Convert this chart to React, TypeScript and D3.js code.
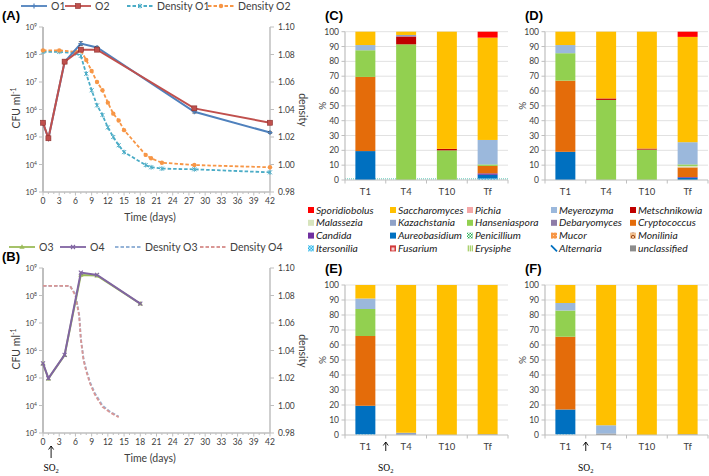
import React from 'react';
import * as d3 from 'd3';

// ---------- Panel A / B data ----------
const daysA = [0, 1, 4, 7, 10, 28, 42];
const cfuO1 = [3.2e5, 9e4, 5.3e7, 2.5e8, 1.8e8, 8.3e5, 1.45e5];
const cfuO2 = [3.3e5, 9e4, 5.5e7, 1.5e8, 1.5e8, 1.1e6, 3.3e5];
const errO1 = [0, 0, 0, 0.07, 0.04, 0.05, 0.03];
const errO2 = [0, 0, 0, 0.04, 0.04, 0.06, 0.03];

const densDaysA = [0, 3, 6, 7, 8, 9, 10, 11, 12, 13, 14, 15, 19, 20, 22, 28, 42];
const densO1 = [1.082, 1.082, 1.081, 1.079, 1.066, 1.054, 1.043, 1.036, 1.027, 1.020, 1.014, 1.009, 0.9996, 0.998, 0.997, 0.9965, 0.9943];
const densO2 = [1.083, 1.083, 1.082, 1.083, 1.076, 1.068, 1.060, 1.054, 1.045, 1.037, 1.032, 1.025, 1.007, 1.0045, 1.0013, 0.9996, 0.998];

const daysB = [0, 1, 4, 7, 10, 18];
const cfuO3 = [3.3e5, 9.5e4, 6.8e5, 5.6e8, 5.3e8, 5e7];
const cfuO4 = [3.4e5, 9.8e4, 6.9e5, 6.8e8, 5.6e8, 5.1e7];
const densDaysB = [0, 5, 6, 6.7, 7, 7.5, 8, 8.7, 9.6, 11, 12.4, 14];
const densO3 = [1.087, 1.087, 1.081, 1.066, 1.049, 1.034, 1.026, 1.017, 1.009, 1.000, 0.9955, 0.992];
const densO4 = [1.087, 1.087, 1.080, 1.065, 1.048, 1.033, 1.025, 1.016, 1.008, 0.999, 0.995, 0.9915];

const logTicks = [3, 4, 5, 6, 7, 8, 9];
const densTicks = [0.98, 1.0, 1.02, 1.04, 1.06, 1.08, 1.1];
const dayTicks = d3.range(0, 43, 3);

// ---------- Stacked bars data ----------
const timepoints = ['T1', 'T4', 'T10', 'Tf'];
const stackKeys = ['Itersonilia', 'Aureobasidium', 'Candida', 'Cryptococcus', 'Malassezia', 'Hanseniaspora', 'unclassified', 'Meyerozyma', 'Metschnikowia', 'Kazachstania', 'Saccharomyces', 'Sporidiobolus'];

const barsC = [
  { t: 'T1', Aureobasidium: 19.5, Cryptococcus: 50, Hanseniaspora: 18, Meyerozyma: 3.5, Saccharomyces: 9 },
  { t: 'T4', Hanseniaspora: 91.5, Metschnikowia: 5.3, Kazachstania: 1, Saccharomyces: 2.2 },
  { t: 'T10', Hanseniaspora: 20, Metschnikowia: 1, Saccharomyces: 79 },
  { t: 'Tf', Itersonilia: 1, Aureobasidium: 2.5, Candida: 1, Cryptococcus: 5, Hanseniaspora: 1, Meyerozyma: 16.5, Saccharomyces: 69, Sporidiobolus: 4 },
];
const barsD = [
  { t: 'T1', Aureobasidium: 19, Cryptococcus: 48, Hanseniaspora: 18.5, Meyerozyma: 5.5, Saccharomyces: 9 },
  { t: 'T4', Hanseniaspora: 54, Metschnikowia: 1, Saccharomyces: 45 },
  { t: 'T10', Hanseniaspora: 20.5, Metschnikowia: 0.7, Saccharomyces: 78.8 },
  { t: 'Tf', Aureobasidium: 1.5, Candida: 0.5, Cryptococcus: 6.5, Malassezia: 1, Hanseniaspora: 1, Meyerozyma: 15, Saccharomyces: 71, Sporidiobolus: 3.5 },
];
const barsE = [
  { t: 'T1', Itersonilia: 0.5, Aureobasidium: 19, Cryptococcus: 46.5, Hanseniaspora: 18, Meyerozyma: 7, Saccharomyces: 9 },
  { t: 'T4', Kazachstania: 1.5, Saccharomyces: 98.5 },
  { t: 'T10', Saccharomyces: 100 },
  { t: 'Tf', unclassified: 0.5, Saccharomyces: 99.5 },
];
const barsF = [
  { t: 'T1', Itersonilia: 0.5, Aureobasidium: 16.5, Cryptococcus: 48.5, Hanseniaspora: 17.5, Meyerozyma: 5, Saccharomyces: 12 },
  { t: 'T4', unclassified: 1, Meyerozyma: 5.5, Saccharomyces: 93.5 },
  { t: 'T10', Saccharomyces: 100 },
  { t: 'Tf', unclassified: 0.5, Saccharomyces: 99.5 },
];

const legendGenera = [
  'Sporidiobolus', 'Saccharomyces', 'Pichia', 'Meyerozyma', 'Metschnikowia',
  'Malassezia', 'Kazachstania', 'Hanseniaspora', 'Debaryomyces', 'Cryptococcus',
  'Candida', 'Aureobasidium', 'Penicillium', 'Mucor', 'Monilinia',
  'Itersonilia', 'Fusarium', 'Erysiphe', 'Alternaria', 'unclassified',
];
const genusFill: Record<string, string> = {
  Sporidiobolus: '#FF0000', Saccharomyces: '#FFC000', Pichia: '#F4A7A7', Meyerozyma: '#9BB8DC', Metschnikowia: '#C00000',
  Malassezia: '#D7E4BD', Kazachstania: '#8FA2C8', Hanseniaspora: '#92D050', Debaryomyces: '#8E7CA8', Cryptococcus: '#E46C0A',
  Candida: '#7030A0', Aureobasidium: '#0070C0', Penicillium: 'url(#pPen)', Mucor: 'url(#pMuc)', Monilinia: 'url(#pMon)',
  Itersonilia: 'url(#pIter)', Fusarium: 'url(#pFus)', Erysiphe: 'url(#pErys)', Alternaria: 'none', unclassified: '#8C8C8C',
};

const AX = '#BFBFBF';
const TXT = '#404040';
const FONT = 'Lato, "Liberation Sans", sans-serif';

function GrowthPanel(props: {
  dy: number; label: string; legend: { name: string; color: string; dashed: boolean; marker: string }[];
  legendX: number[]; solids: { days: number[]; vals: number[]; err?: number[]; color: string; marker: string }[];
  dens: { days: number[]; vals: number[]; color: string; marker: string }[]; so2?: boolean;
}) {
  const { dy } = props;
  const x = d3.scaleLinear().domain([0, 42]).range([43, 270]);
  const yL = d3.scaleLog().domain([1e3, 1e9]).range([192 + dy, 27 + dy]);
  const yR = d3.scaleLinear().domain([0.98, 1.1]).range([192 + dy, 27 + dy]);
  const marker = (type: string, cx: number, cy: number, color: string, key: string | number) => {
    if (type === 'square') return <rect key={key} x={cx - 2.5} y={cy - 2.5} width={5} height={5} fill={color} stroke="#8B2E2B" strokeWidth={0.6} />;
    if (type === 'circle') return <circle key={key} cx={cx} cy={cy} r={2.2} fill={color} />;
    if (type === 'plus') return <path key={key} d={`M${cx - 2.5},${cy}H${cx + 2.5}M${cx},${cy - 2.5}V${cy + 2.5}`} stroke={color} strokeWidth={1.2} />;
    if (type === 'x') return <path key={key} d={`M${cx - 2},${cy - 2}L${cx + 2},${cy + 2}M${cx - 2},${cy + 2}L${cx + 2},${cy - 2}`} stroke={color} strokeWidth={1.1} />;
    if (type === 'star') return <path key={key} d={`M${cx - 2},${cy - 2}L${cx + 2},${cy + 2}M${cx - 2},${cy + 2}L${cx + 2},${cy - 2}M${cx},${cy - 2.4}V${cy + 2.4}`} stroke={color} strokeWidth={1} />;
    if (type === 'tri') return <path key={key} d={`M${cx},${cy - 2.8}L${cx + 2.6},${cy + 1.8}L${cx - 2.6},${cy + 1.8}Z`} fill={color} />;
    return null;
  };
  const lineL = d3.line<[number, number]>().x(d => x(d[0])).y(d => yL(d[1]));
  const lineR = d3.line<[number, number]>().x(d => x(d[0])).y(d => yR(d[1]));
  return (
    <g>
      <text x={2} y={20 + dy} fontFamily='"Liberation Sans", Arial, sans-serif' fontWeight="bold" fontSize={13} fill="#000">{props.label}</text>
      {/* legend */}
      {props.legend.map((l, i) => {
        const lx = props.legendX[i];
        return (
          <g key={i}>
            <line x1={lx} x2={lx + 26} y1={6 + dy} y2={6 + dy} stroke={l.color} strokeWidth={1.8} strokeDasharray={l.dashed ? '3.5,2' : undefined} />
            {marker(l.marker, lx + 13, 6 + dy, l.color, 'm')}
            <text x={lx + 30} y={9.8 + dy} fontSize={10.5} fill={TXT} fontFamily={FONT}>{l.name}</text>
          </g>
        );
      })}
      {/* axes */}
      <line x1={43} x2={43} y1={27 + dy} y2={192 + dy} stroke={AX} strokeWidth={2} />
      <line x1={270} x2={270} y1={27 + dy} y2={192 + dy} stroke={AX} strokeWidth={1.5} />
      <line x1={43} x2={270} y1={192 + dy} y2={192 + dy} stroke={AX} strokeWidth={1.5} />
      {logTicks.map(p => (
        <g key={p}>
          <line x1={39} x2={43} y1={yL(Math.pow(10, p))} y2={yL(Math.pow(10, p))} stroke={AX} />
          <text x={37} y={yL(Math.pow(10, p)) + 3} textAnchor="end" fontSize={7.5} fill={TXT} fontFamily={FONT}>10<tspan dy={-3} fontSize={5}>{p}</tspan></text>
        </g>
      ))}
      {densTicks.map(t => (
        <g key={t}>
          <line x1={270} x2={274} y1={yR(t)} y2={yR(t)} stroke={AX} />
          <text x={278} y={yR(t) + 3} fontSize={8.5} fill={TXT} fontFamily={FONT}>{t.toFixed(2)}</text>
        </g>
      ))}
      {d3.range(0, 43).map(d => (
        <line key={d} x1={x(d)} x2={x(d)} y1={192 + dy} y2={192 + dy + (d % 3 === 0 ? 3.5 : 2)} stroke={AX} />
      ))}
      {dayTicks.map(d => (
        <text key={d} x={x(d)} y={204 + dy} textAnchor="middle" fontSize={8.5} fill={TXT} fontFamily={FONT}>{d}</text>
      ))}
      <text x={150} y={221 + dy} textAnchor="middle" fontSize={10.5} fill={TXT} fontFamily={FONT}>Time (days)</text>
      <text transform={`translate(20,${108 + dy}) rotate(-90)`} textAnchor="middle" fontSize={10.5} fill={TXT} fontFamily={FONT}>CFU ml<tspan dy={-4} fontSize={7}>-1</tspan></text>
      <text transform={`translate(299,${110 + dy}) rotate(90)`} textAnchor="middle" fontSize={10.5} fill={TXT} fontFamily={FONT}>density</text>
      {/* density lines */}
      {props.dens.map((s, i) => {
        const pts = s.days.map((d, j) => [d, s.vals[j]] as [number, number]);
        return (
          <g key={'d' + i}>
            <path d={lineR(pts) || ''} fill="none" stroke={s.color} strokeWidth={1.8} strokeDasharray="3.5,2" />
            {pts.map((p, j) => marker(s.marker, x(p[0]), yR(p[1]), s.color, j))}
          </g>
        );
      })}
      {/* CFU lines */}
      {props.solids.map((s, i) => {
        const pts = s.days.map((d, j) => [d, s.vals[j]] as [number, number]);
        return (
          <g key={'s' + i}>
            <path d={lineL(pts) || ''} fill="none" stroke={s.color} strokeWidth={2} />
            {s.err && pts.map((p, j) => s.err![j] > 0 ? (
              <path key={'e' + j} d={`M${x(p[0])},${yL(p[1] * Math.pow(10, s.err![j]))}V${yL(p[1] / Math.pow(10, s.err![j]))}M${x(p[0]) - 2},${yL(p[1] * Math.pow(10, s.err![j]))}H${x(p[0]) + 2}M${x(p[0]) - 2},${yL(p[1] / Math.pow(10, s.err![j]))}H${x(p[0]) + 2}`} stroke="#333" strokeWidth={0.7} />
            ) : null)}
            {pts.map((p, j) => marker(s.marker, x(p[0]), yL(p[1]), s.color, j))}
          </g>
        );
      })}
      {props.so2 && (
        <g>
          <line x1={x(1.5)} x2={x(1.5)} y1={446 } y2={458} stroke="#000" strokeWidth={0.9} />
          <path d={`M${x(1.5) - 2.5},${449.5}L${x(1.5)},${446}L${x(1.5) + 2.5},${449.5}`} fill="none" stroke="#000" strokeWidth={0.9} />
          <text x={x(1.5)} y={471} textAnchor="middle" fontSize={9.5} fontFamily='"Liberation Serif", "Times New Roman", serif'>SO<tspan dy={2} fontSize={6.5}>2</tspan></text>
        </g>
      )}
    </g>
  );
}

function BarPanel(props: { ox: number; top: number; bottom: number; label: string; data: any[]; so2?: boolean; dotted?: boolean }) {
  const { ox, top, bottom } = props;
  const x0 = 345 + ox, x1 = 508 + ox;
  const x = d3.scaleBand().domain(timepoints).range([x0, x1]).paddingInner(0.51).paddingOuter(0.255);
  const y = d3.scaleLinear().domain([0, 100]).range([bottom, top]);
  const rows = props.data.map(r => { const o: any = { t: r.t }; stackKeys.forEach(k => (o[k] = r[k] || 0)); return o; });
  const series = d3.stack<any>().keys(stackKeys)(rows);
  const step = (x1 - x0) / 4;
  return (
    <g>
      <text x={325 + ox} y={top - 12} fontFamily='"Liberation Sans", Arial, sans-serif' fontWeight="bold" fontSize={13} fill="#000">{props.label}</text>
      {d3.range(10, 101, 10).map(v => (
        <line key={v} x1={x0} x2={x1} y1={y(v)} y2={y(v)} stroke="#D9D9D9" strokeWidth={0.8} />
      ))}
      {d3.range(0, 101, 10).map(v => (
        <g key={v}>
          <line x1={x0 - 3.5} x2={x0} y1={y(v)} y2={y(v)} stroke={AX} />
          <text x={x0 - 6} y={y(v) + 3} textAnchor="end" fontSize={8.5} fill={TXT} fontFamily={FONT}>{v}</text>
        </g>
      ))}
      <text transform={`translate(${326 + ox},${(top + bottom) / 2}) rotate(-90)`} textAnchor="middle" fontSize={10} fill={TXT} fontFamily={FONT}>%</text>
      {props.dotted && <line x1={x0} x2={x1} y1={y(0.8)} y2={y(0.8)} stroke="#6FD0C0" strokeWidth={1.3} strokeDasharray="1,1" />}
      {series.map(s => (
        <g key={s.key}>
          {s.map((d, i) => d[1] - d[0] > 0 ? (
            <rect key={i} x={x(d.data.t)} width={x.bandwidth()} y={y(d[1])} height={y(d[0]) - y(d[1])} fill={genusFill[s.key]} />
          ) : null)}
        </g>
      ))}
      <line x1={x0} x2={x0} y1={top} y2={bottom} stroke={AX} strokeWidth={1.2} />
      <line x1={x0} x2={x1} y1={bottom} y2={bottom} stroke={AX} strokeWidth={1.2} />
      {d3.range(0, 5).map(i => (
        <line key={i} x1={x0 + i * step} x2={x0 + i * step} y1={bottom} y2={bottom + 3.5} stroke={AX} />
      ))}
      {timepoints.map(t => (
        <text key={t} x={(x(t) || 0) + x.bandwidth() / 2} y={bottom + 15} textAnchor="middle" fontSize={9.5} fill={TXT} fontFamily={FONT}>{t}</text>
      ))}
      {props.so2 && (
        <g>
          <line x1={x0 + step} x2={x0 + step} y1={bottom + 7} y2={bottom + 16} stroke="#000" strokeWidth={0.9} />
          <path d={`M${x0 + step - 2.5},${bottom + 10.5}L${x0 + step},${bottom + 7}L${x0 + step + 2.5},${bottom + 10.5}`} fill="none" stroke="#000" strokeWidth={0.9} />
          <text x={x0 + step} y={bottom + 36} textAnchor="middle" fontSize={9.5} fontFamily='"Liberation Serif", "Times New Roman", serif'>SO<tspan dy={2} fontSize={6.5}>2</tspan></text>
        </g>
      )}
    </g>
  );
}

function Legend() {
  const colX = [308, 390, 467, 551, 630];
  return (
    <g>
      {legendGenera.map((g, i) => {
        const cx = colX[i % 5];
        const cy = 210 + Math.floor(i / 5) * 12.8;
        return (
          <g key={g}>
            {g === 'Alternaria'
              ? <path d={`M${cx},${cy - 3}L${cx + 6},${cy + 3}`} stroke="#0070C0" strokeWidth={1.8} />
              : <rect x={cx} y={cy - 3} width={6} height={6} fill={genusFill[g]} />}
            <text x={cx + 8} y={cy + 3.6} fontSize={10.3} fontStyle="italic" fill="#222" fontFamily={FONT}>{g}</text>
          </g>
        );
      })}
    </g>
  );
}

export default function App() {
  const densLegendA = [
    { name: 'O1', color: '#4F81BD', dashed: false, marker: 'plus' },
    { name: 'O2', color: '#C0504D', dashed: false, marker: 'square' },
    { name: 'Density O1', color: '#4BACC6', dashed: true, marker: 'star' },
    { name: 'Density O2', color: '#F79646', dashed: true, marker: 'circle' },
  ];
  const densLegendB = [
    { name: 'O3', color: '#9BBB59', dashed: false, marker: 'tri' },
    { name: 'O4', color: '#8064A2', dashed: false, marker: 'x' },
    { name: 'Desnity O3', color: '#95B3D7', dashed: true, marker: 'none' },
    { name: 'Density O4', color: '#D99694', dashed: true, marker: 'none' },
  ];
  return (
    <svg width={709} height={476} style={{ position: 'absolute', left: 0, top: 0, background: '#fff' }}>
      <defs>
        <pattern id="pPen" width="3" height="3" patternUnits="userSpaceOnUse">
          <rect width="3" height="3" fill="#fff" /><rect width="1.5" height="1.5" fill="#2EAF5A" /><rect x="1.5" y="1.5" width="1.5" height="1.5" fill="#2EAF5A" />
        </pattern>
        <pattern id="pIter" width="3" height="3" patternUnits="userSpaceOnUse">
          <rect width="3" height="3" fill="#BDEBFA" /><rect width="1.5" height="1.5" fill="#2BB3E8" /><rect x="1.5" y="1.5" width="1.5" height="1.5" fill="#2BB3E8" />
        </pattern>
        <pattern id="pMuc" width="3" height="3" patternUnits="userSpaceOnUse">
          <rect width="3" height="3" fill="#F79646" /><rect x="1" y="1" width="1" height="1" fill="#FBD0AE" />
        </pattern>
        <pattern id="pMon" width="6" height="6" patternUnits="userSpaceOnUse">
          <rect width="6" height="6" fill="#F2C08E" /><circle cx="3" cy="3" r="1.7" fill="none" stroke="#9C4A1A" strokeWidth="1" />
        </pattern>
        <pattern id="pFus" width="6" height="6" patternUnits="userSpaceOnUse">
          <rect width="6" height="6" fill="#D23B3B" /><rect x="1.5" y="1.5" width="3" height="3" fill="#F6D0D0" />
        </pattern>
        <pattern id="pErys" width="2" height="2" patternUnits="userSpaceOnUse">
          <rect width="2" height="2" fill="#E4F0CF" /><rect width="1" height="2" fill="#A9D06E" />
        </pattern>
      </defs>
      <GrowthPanel dy={0} label="(A)" legend={densLegendA} legendX={[21, 65, 127, 208]}
        solids={[
          { days: daysA, vals: cfuO1, err: errO1, color: '#4F81BD', marker: 'plus' },
          { days: daysA, vals: cfuO2, err: errO2, color: '#C0504D', marker: 'square' },
        ]}
        dens={[
          { days: densDaysA, vals: densO1, color: '#4BACC6', marker: 'star' },
          { days: densDaysA, vals: densO2, color: '#F79646', marker: 'circle' },
        ]} />
      <GrowthPanel dy={241} label="(B)" legend={densLegendB} legendX={[9, 60, 115, 200]} so2
        solids={[
          { days: daysB, vals: cfuO3, color: '#9BBB59', marker: 'tri' },
          { days: daysB, vals: cfuO4, color: '#8064A2', marker: 'x' },
        ]}
        dens={[
          { days: densDaysB, vals: densO3, color: '#95B3D7', marker: 'none' },
          { days: densDaysB, vals: densO4, color: '#D99694', marker: 'none' },
        ]} />
      <BarPanel ox={0} top={31.7} bottom={180} label="(C)" data={barsC} dotted />
      <BarPanel ox={200} top={31.7} bottom={180} label="(D)" data={barsD} />
      <Legend />
      <BarPanel ox={0} top={285} bottom={435} label="(E)" data={barsE} so2 />
      <BarPanel ox={200} top={285} bottom={435} label="(F)" data={barsF} so2 />
    </svg>
  );
}
